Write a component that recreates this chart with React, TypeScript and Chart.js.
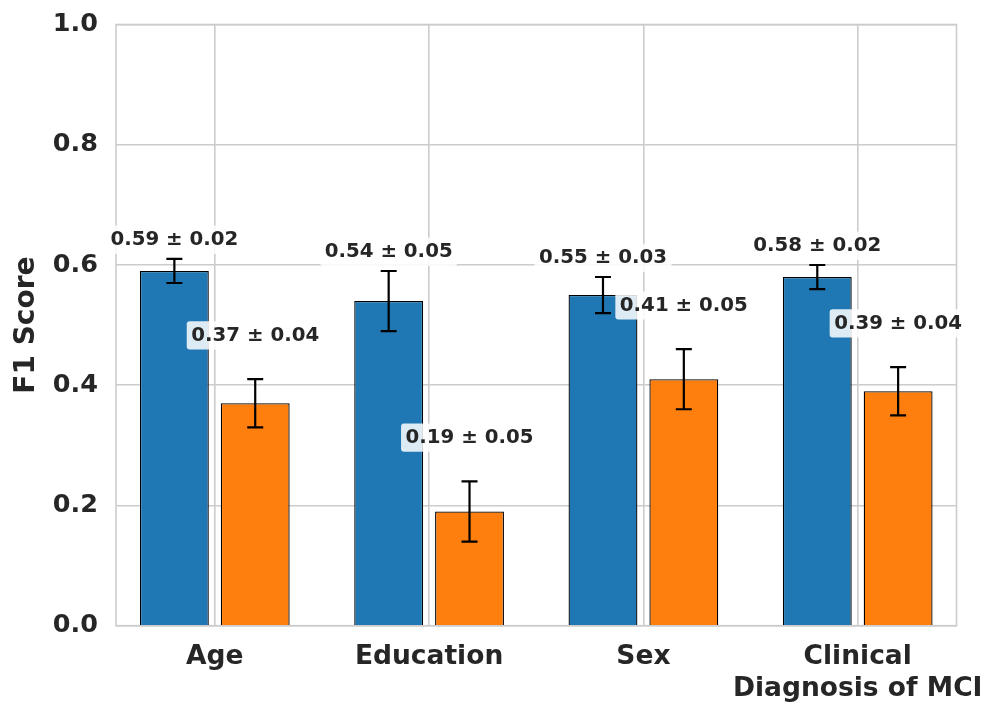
import React, { useEffect, useRef } from 'react';
import { Chart, registerables } from 'chart.js';

Chart.register(...registerables);

const categories: (string | string[])[] = ['Age', 'Education', 'Sex', ['Clinical', 'Diagnosis of MCI']];
const seriesAMeans = [0.59, 0.54, 0.55, 0.58];
const seriesAErrors = [0.02, 0.05, 0.03, 0.02];
const seriesBMeans = [0.37, 0.19, 0.41, 0.39];
const seriesBErrors = [0.04, 0.05, 0.05, 0.04];
const yTickValues = [0, 0.2, 0.4, 0.6, 0.8, 1.0];

const FONT = '"DejaVu Sans", "Liberation Sans", sans-serif';
const TEXT = '#262626';
const GRID = '#cccccc';

const labelOffsets = [0.035, 0.076];

const errorPlugin = {
  id: 'errorBarsAndLabels',
  beforeDatasetsDraw(chart: any) {
    const { ctx, chartArea } = chart;
    ctx.save();
    ctx.strokeStyle = GRID;
    ctx.lineWidth = 1.6;
    ctx.strokeRect(chartArea.left, chartArea.top, chartArea.right - chartArea.left, chartArea.bottom - chartArea.top);
    ctx.restore();
  },
  afterDatasetsDraw(chart: any) {
    const ctx = chart.ctx;
    const ys = chart.scales.y;
    const items: { x: number; m: number; e: number; di: number }[] = [];
    chart.data.datasets.forEach((ds: any, di: number) => {
      const meta = chart.getDatasetMeta(di);
      meta.data.forEach((bar: any, i: number) => {
        const m = ds.data[i].y;
        const e = ds.errors[i];
        const yTop = ys.getPixelForValue(m + e);
        const yBot = ys.getPixelForValue(m - e);
        ctx.save();
        ctx.strokeStyle = '#000';
        ctx.lineWidth = 2.2;
        ctx.beginPath();
        ctx.moveTo(bar.x, yTop);
        ctx.lineTo(bar.x, yBot);
        ctx.moveTo(bar.x - 8, yTop);
        ctx.lineTo(bar.x + 8, yTop);
        ctx.moveTo(bar.x - 8, yBot);
        ctx.lineTo(bar.x + 8, yBot);
        ctx.stroke();
        ctx.restore();
        items.push({ x: bar.x, m, e, di });
      });
    });
    const fs = 19.8;
    items.forEach(({ x, m, e, di }) => {
      const text = `${m.toFixed(2)} ± ${e.toFixed(2)}`;
      ctx.save();
      ctx.font = `bold ${fs}px ${FONT}`;
      const w = ctx.measureText(text).width;
      const capCenter = ys.getPixelForValue(m + e + labelOffsets[di]);
      const baseline = capCenter + 0.3645 * fs;
      const top = baseline - 0.76 * fs - 4.5;
      const bottom = baseline + 0.24 * fs + 4;
      const left = x - w / 2 - 4.5;
      const right = x + w / 2 + 4.5;
      ctx.fillStyle = 'rgba(255,255,255,0.85)';
      ctx.beginPath();
      if ((ctx as any).roundRect) {
        (ctx as any).roundRect(left, top, right - left, bottom - top, 3);
      } else {
        ctx.rect(left, top, right - left, bottom - top);
      }
      ctx.fill();
      ctx.fillStyle = TEXT;
      ctx.textAlign = 'center';
      ctx.textBaseline = 'alphabetic';
      ctx.fillText(text, x, baseline);
      ctx.restore();
    });
  },
};

export default function App() {
  const ref = useRef<HTMLCanvasElement | null>(null);
  useEffect(() => {
    if (!ref.current) return;
    const chart = new Chart(ref.current, {
      type: 'bar',
      data: {
        datasets: [
          {
            label: 'A',
            data: seriesAMeans.map((v, i) => ({ x: i, y: v })),
            errors: seriesAErrors,
            backgroundColor: '#1f77b4',
            borderColor: '#000000',
            borderWidth: 1.3,
          } as any,
          {
            label: 'B',
            data: seriesBMeans.map((v, i) => ({ x: i, y: v })),
            errors: seriesBErrors,
            backgroundColor: '#ff7f0e',
            borderColor: '#000000',
            borderWidth: 1.3,
          } as any,
        ],
      },
      options: {
        responsive: false,
        animation: false,
        devicePixelRatio: 1,
        layout: { padding: { top: 24.5, right: 40.5, left: 0, bottom: 0 } },
        datasets: { bar: { categoryPercentage: 0.7545, barPercentage: 0.852 } },
        plugins: { legend: { display: false }, tooltip: { enabled: false } },
        scales: {
          x: {
            type: 'linear',
            offset: false,
            min: -0.461,
            max: 3.461,
            afterBuildTicks: (s: any) => {
              s.ticks = categories.map((_, i) => ({ value: i }));
            },
            afterFit: (s: any) => {
              s.height = 89.3;
              s.paddingLeft = 0;
              s.paddingRight = 0;
              s.paddingTop = 0;
              s.paddingBottom = 0;
            },
            grid: { color: GRID, lineWidth: 1.6, drawTicks: false, offset: false },
            border: { display: false },
            ticks: {
              padding: 16,
              color: TEXT,
              font: { family: FONT, size: 26.5, weight: 'bold', lineHeight: 1.2 },
              callback: (v: any) => categories[Math.round(Number(v))] as any,
              maxRotation: 0,
              autoSkip: false,
            },
          },
          y: {
            min: 0,
            max: 1,
            afterBuildTicks: (s: any) => {
              s.ticks = yTickValues.map((v) => ({ value: v }));
            },
            afterFit: (s: any) => {
              s.width = 116;
              s.paddingLeft = 0;
              s.paddingRight = 0;
              s.paddingTop = 0;
              s.paddingBottom = 0;
            },
            grid: { color: GRID, lineWidth: 1.6, drawTicks: false },
            border: { display: false },
            ticks: {
              padding: 18,
              color: TEXT,
              font: { family: FONT, size: 25.5, weight: 'bold' },
              callback: (v: any) => Number(v).toFixed(1),
            },
            title: {
              display: true,
              text: 'F1 Score',
              color: TEXT,
              font: { family: FONT, size: 28, weight: 'bold', lineHeight: 1.2 },
              padding: { top: 10, bottom: 0 },
            },
          },
        },
      } as any,
      plugins: [errorPlugin],
    });
    return () => chart.destroy();
  }, []);
  return (
    <div style={{ position: 'fixed', left: 0, top: 0, width: 997, height: 715, background: '#fff' }}>
      <canvas ref={ref} width={997} height={715} style={{ display: 'block', width: 997, height: 715 }} />
    </div>
  );
}
